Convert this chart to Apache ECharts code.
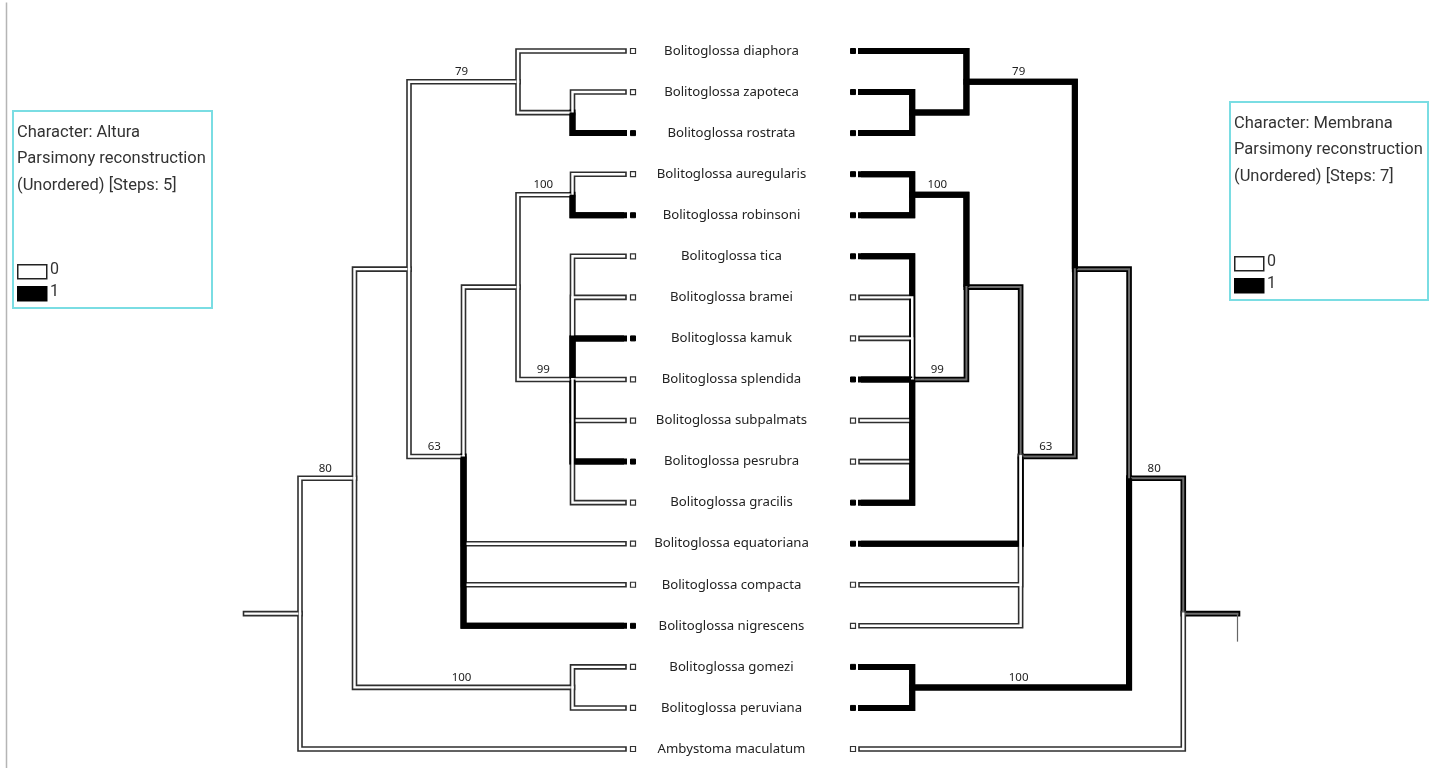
<!DOCTYPE html>
<html lang="en">
<head>
<meta charset="UTF-8">
<title>Bolitoglossa - Altura / Membrana</title>
<style>
html, body { margin: 0; padding: 0; background: #fff; }
#main { width: 1440px; height: 768px; }
</style>
</head>
<body>
<div id="main"></div>

<script src="https://cdn.jsdelivr.net/npm/echarts@6/dist/echarts.min.js"></script>
<script>
var taxa = [
    'Bolitoglossa diaphora', 'Bolitoglossa zapoteca', 'Bolitoglossa rostrata',
    'Bolitoglossa auregularis', 'Bolitoglossa robinsoni', 'Bolitoglossa tica',
    'Bolitoglossa bramei', 'Bolitoglossa kamuk', 'Bolitoglossa splendida',
    'Bolitoglossa subpalmats', 'Bolitoglossa pesrubra', 'Bolitoglossa gracilis',
    'Bolitoglossa equatoriana', 'Bolitoglossa compacta', 'Bolitoglossa nigrescens',
    'Bolitoglossa gomezi', 'Bolitoglossa peruviana', 'Ambystoma maculatum'
];

// tree shape, numbers are indices into taxa
var topology = [[[[0, [1, 2]], [[[3, 4], [5, 6, 7, 8, 9, 10, 11]], 12, 13, 14]], [15, 16]], 17];

// internal nodes in preorder: root, 80, A, 79, zap+ros, 63, B, 100, 99, gom+per
var support = [null, 80, null, 79, null, 63, null, 100, 99, 100];

// states per branch: 0, 1, 2 = equivocal
var alturaTips = [0, 0, 1, 0, 1, 0, 0, 1, 0, 0, 1, 0, 0, 0, 1, 0, 0, 0];
var alturaNodes = [0, 0, 0, 0, 0, 0, 0, 0, 0, 0];
var membranaTips = [1, 1, 1, 1, 1, 1, 0, 0, 1, 0, 0, 1, 1, 0, 0, 1, 1, 0];
var membranaNodes = [2, 2, 2, 1, 1, 2, 2, 1, 2, 1];

var stemLength = 1;

// ---- layout from the topology ----
var nodes = [];
var internalCount = 0;
function build(sub, parent) {
    var node = { parent: parent };
    nodes.push(node);
    if (typeof sub === 'number') {
        node.tip = sub;
        node.y = sub;
        node.h = 0;
    } else {
        node.internal = internalCount++;
        var kids = sub.map(function (s) { return build(s, node); });
        node.y = (kids[0].y + kids[kids.length - 1].y) / 2;
        node.h = 1 + Math.max.apply(null, kids.map(function (k) { return k.h; }));
    }
    return node;
}
var root = build(topology, null);
var rootTop = root.h + stemLength;

function stateOf(n, tips, inner) {
    return n.tip !== undefined ? tips[n.tip] : inner[n.internal];
}
function branchPoints(n) {
    if (!n.parent) return [[rootTop, n.y], [n.h, n.y]];
    return [[n.parent.h, n.parent.y], [n.parent.h, n.y], [n.h, n.y]];
}

var myChart = echarts.init(document.getElementById('main'));

function branchSeries(idx, tips, inner, pass, stemTick) {
    return {
        type: 'custom',
        xAxisIndex: idx,
        yAxisIndex: idx,
        silent: true,
        z: pass === 'outline' ? 2 : 3,
        data: nodes.map(function (n) { return [n.h, n.y]; }),
        renderItem: function (params, api) {
            var n = nodes[params.dataIndex];
            var st = stateOf(n, tips, inner);
            var pts = branchPoints(n).map(function (p) { return api.coord(p); });
            var last = pts[pts.length - 1];
            var prev = pts[pts.length - 2];
            // pull the open end back so the square cap stops at the tip
            var dir = last[0] > prev[0] ? 1 : -1;
            pts[pts.length - 1] = [last[0] - dir * 3, last[1]];
            var children = [];
            if (pass === 'outline') {
                children.push({
                    type: 'polyline',
                    shape: { points: pts },
                    style: { stroke: st === 0 ? '#2e2e2e' : '#000', lineWidth: st === 1 ? 6 : 5.6, fill: null, lineCap: 'square', lineJoin: 'miter' }
                });
                if (!n.parent && stemTick) {
                    children.push({
                        type: 'line',
                        shape: { x1: pts[0][0], y1: pts[0][1], x2: pts[0][0], y2: pts[0][1] + 28 },
                        style: { stroke: '#666', lineWidth: 1.2 }
                    });
                }
            } else {
                var st2 = st === 1
                    ? { stroke: '#000', lineWidth: 6, fill: null, lineCap: 'butt', lineJoin: 'miter' }
                    : { stroke: st === 0 ? '#fff' : '#6e6e6e', lineWidth: st === 0 ? 2.4 : 2, fill: null, lineCap: 'square', lineJoin: 'miter' };
                children.push({ type: 'polyline', shape: { points: pts }, style: st2 });
                if (n.internal !== undefined && support[n.internal] != null) {
                    var mid = (prev[0] + last[0]) / 2;
                    children.push({
                        type: 'text',
                        style: {
                            x: mid - 2, y: last[1] - 10,
                            text: String(support[n.internal]),
                            fill: '#222', font: '11.5px "Noto Sans"',
                            align: 'center', verticalAlign: 'middle'
                        }
                    });
                }
            }
            return { type: 'group', children: children };
        }
    };
}

function tipSeries(idx, tips, offset, withNames) {
    var tipNodes = nodes.filter(function (n) { return n.tip !== undefined; });
    return {
        type: 'custom',
        xAxisIndex: idx,
        yAxisIndex: idx,
        silent: true,
        z: 4,
        data: tipNodes.map(function (n) { return [n.h, n.y]; }),
        renderItem: function (params, api) {
            var n = tipNodes[params.dataIndex];
            var p = api.coord([n.h, n.y]);
            var x = p[0] + offset;
            var children = [{
                type: 'rect',
                shape: { x: x - 2.5, y: p[1] - 2.5, width: 5, height: 5 },
                style: tips[n.tip] === 1
                    ? { fill: '#000', stroke: '#000', lineWidth: 1 }
                    : { fill: '#fff', stroke: '#333', lineWidth: 1.2 }
            }];
            if (withNames) {
                var other = myChart.convertToPixel({ gridIndex: 1 }, [0, n.y]);
                children.push({
                    type: 'text',
                    style: {
                        x: (p[0] + other[0]) / 2 - 11, y: p[1],
                        text: taxa[n.tip],
                        fill: '#222', font: '13.2px "Noto Sans"',
                        align: 'center', verticalAlign: 'middle'
                    }
                });
            }
            return { type: 'group', children: children };
        }
    };
}

function legendBox(x, y, w, h, title, steps) {
    var lines = [title, 'Parsimony reconstruction', '(Unordered) [Steps: ' + steps + ']'];
    var els = [{
        type: 'rect', left: x, top: y,
        shape: { width: w, height: h },
        style: { fill: '#fff', stroke: '#7adde3', lineWidth: 2 }
    }];
    lines.forEach(function (t, i) {
        els.push({
            type: 'text', left: x + 5, top: y + 14 + i * 26.5,
            style: { text: t, fill: '#333', font: '16.5px Roboto' }
        });
    });
    els.push({ type: 'rect', left: x + 5, top: y + h - 43, shape: { width: 29, height: 14 }, style: { fill: '#fff', stroke: '#222', lineWidth: 1.5 } });
    els.push({ type: 'rect', left: x + 5, top: y + h - 21, shape: { width: 29, height: 14 }, style: { fill: '#000', stroke: '#000', lineWidth: 1.5 } });
    els.push({ type: 'text', left: x + 38, top: y + h - 45, style: { text: '0', fill: '#333', font: '16px Roboto' } });
    els.push({ type: 'text', left: x + 38, top: y + h - 23, style: { text: '1', fill: '#333', font: '16px Roboto' } });
    return els;
}

var yAxisCommon = { type: 'value', min: 0, max: taxa.length - 1, inverse: true, show: false };

option = {
    animation: false,
    backgroundColor: '#fff',
    grid: [
        { left: 245.5, right: 813, top: 51, bottom: 19 },
        { left: 858, right: 202.5, top: 51, bottom: 19 }
    ],
    xAxis: [
        { type: 'value', gridIndex: 0, min: 0, max: rootTop, inverse: true, show: false },
        { type: 'value', gridIndex: 1, min: 0, max: rootTop, show: false }
    ],
    yAxis: [
        echarts.util.extend({ gridIndex: 0 }, yAxisCommon),
        echarts.util.extend({ gridIndex: 1 }, yAxisCommon)
    ],
    graphic: [{
        type: 'line', left: 4, top: 0,
        shape: { x1: 0, y1: 0, x2: 0, y2: 768 },
        style: { stroke: '#b5b5b5', lineWidth: 1.5 }
    }].concat(legendBox(12, 110, 199, 197, 'Character: Altura', 5))
      .concat(legendBox(1229, 101, 198, 198, 'Character: Membrana', 7)),
    series: []
};

myChart.setOption(option);

myChart.setOption({
    series: [
        branchSeries(0, alturaTips, alturaNodes, 'outline', false),
        branchSeries(0, alturaTips, alturaNodes, 'inner', false),
        branchSeries(1, membranaTips, membranaNodes, 'outline', true),
        branchSeries(1, membranaTips, membranaNodes, 'inner', true),
        tipSeries(0, alturaTips, 6, true),
        tipSeries(1, membranaTips, -5, false)
    ]
});
</script>
</body>
</html>
